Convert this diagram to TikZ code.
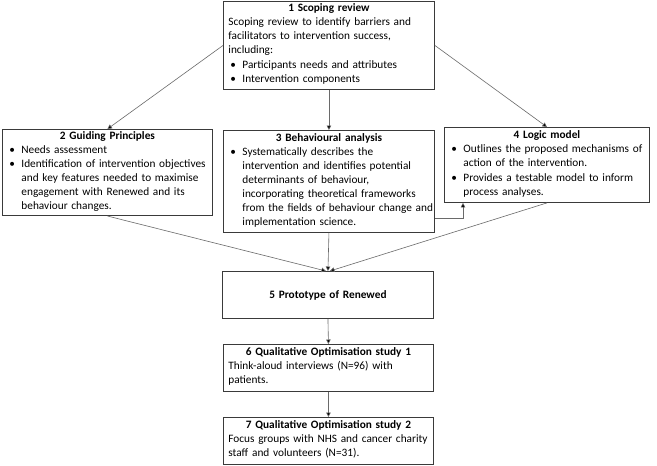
\documentclass[tikz,border=0pt]{standalone}
\usepackage{fontspec}
\setmainfont{Carlito}
\usetikzlibrary{arrows.meta,calc}
\setlength{\parskip}{0pt}
\definecolor{boxc}{HTML}{3A3A3A}
\definecolor{linec}{HTML}{6A6A6A}
\newcommand{\bul}[1]{\par\noindent\makebox[14pt][l]{\hspace{2pt}•}\begin{tabular}[t]{@{}l@{}}#1\end{tabular}}
\newcommand{\plain}[1]{\par\noindent\begin{tabular}[t]{@{}l@{}}#1\end{tabular}}
\newcommand{\ttl}[1]{\noindent\makebox[\linewidth]{\bfseries #1}}
\tikzset{
  box/.style={draw=boxc, line width=0.9pt, anchor=north west, inner xsep=5pt, inner ysep=2pt,
    align=left, font=\fontsize{11.3}{14}\selectfont},
  arr/.style={draw=linec, line width=0.6pt, -{Triangle[length=4.5pt,width=4.5pt,fill=black]}}
}
\begin{document}
\begin{tikzpicture}[x=1pt,y=-1pt]
\useasboundingbox[fill=white] (0,0) rectangle (657,466);
\node[box, text width=201pt, minimum height=88pt] (b1) at (223,1)
  {\ttl{1 Scoping review}
   \plain{Scoping review to identify barriers and\\facilitators to intervention success,\\including:}
   \bul{Participants needs and attributes}
   \bul{Intervention components}};
\node[box, text width=200pt, minimum height=83pt] (b2) at (2,129)
  {\ttl{2 Guiding Principles}
   \bul{Needs assessment}
   \bul{Identification of intervention objectives\\and key features needed to maximise\\engagement with Renewed and its\\behaviour changes.}};
\node[box, text width=201pt, minimum height=102pt] (b3) at (223,130)
  {\ttl{3 Behavioural analysis}
   \bul{Systematically describes the\\intervention and identifies potential\\determinants of behaviour,\\incorporating theoretical frameworks\\from the fields of behaviour change and\\implementation science.}};
\node[box, text width=195pt, minimum height=75pt] (b4) at (444,127)
  {\ttl{4 Logic model}
   \bul{Outlines the proposed mechanisms of\\action of the intervention.}
   \bul{Provides a testable model to inform\\process analyses.}};
\node[box, text width=201pt, minimum height=47pt, align=center] (b5) at (222,271)
  {\bfseries 5 Prototype of Renewed};
\node[box, text width=200pt, minimum height=47pt] (b6) at (223,344)
  {\ttl{6 Qualitative Optimisation study 1}
   \plain{Think-aloud interviews (N=96) with\\patients.}};
\node[box, text width=200pt, minimum height=47pt] (b7) at (223,417)
  {\ttl{7 Qualitative Optimisation study 2}
   \plain{Focus groups with NHS and cancer charity\\staff and volunteers (N=31).}};
\draw[arr] (b1.west) -- (b2.north);
\draw[arr] (b1.south) -- (b3.north);
\draw[arr] (b1.east) -- (b4.north);
\draw[arr] ([yshift=15pt]b3.south east) -| ([xshift=19pt]b4.south west);
\draw[arr] (b2.south) -- ([xshift=-2pt]b5.north);
\draw[arr] (b3.south) -- (b5.north);
\draw[arr] (b4.south) -- ([xshift=2pt]b5.north);
\draw[arr] (b5.south) -- (b6.north);
\draw[arr] (b6.south) -- (b7.north);
\end{tikzpicture}
\end{document}
